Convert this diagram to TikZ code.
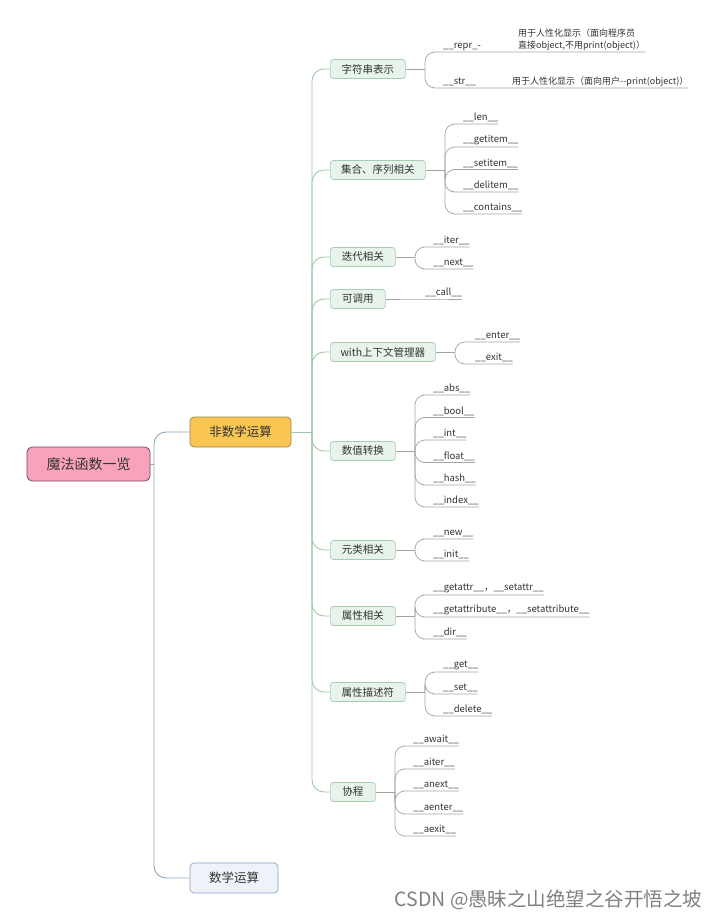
\documentclass[tikz,border=0pt]{standalone}
\usepackage{fontspec}
\setmainfont{Noto Sans CJK SC}
\definecolor{rootfill}{HTML}{F8A3BC}
\definecolor{rootdraw}{HTML}{7E4A5C}
\definecolor{nmfill}{HTML}{F9C652}
\definecolor{nmdraw}{HTML}{9A8446}
\definecolor{mfill}{HTML}{EEF3FA}
\definecolor{mdraw}{HTML}{8FA2B6}
\definecolor{gfill}{HTML}{E7F3EB}
\definecolor{gdraw}{HTML}{A6CDB2}
\definecolor{gline}{HTML}{9DC8A9}
\definecolor{bline}{HTML}{8EA7BA}
\definecolor{lline}{HTML}{A3A3A3}
\definecolor{txt}{HTML}{333333}
\begin{document}
\begin{tikzpicture}[x=1pt,y=-1pt,
  rootbox/.style={draw=rootdraw,fill=rootfill,rounded corners=5pt,line width=0.8pt,
    minimum width=123pt,minimum height=34pt,inner sep=0pt,text=txt,font=\fontsize{14}{16}\selectfont},
  nmbox/.style={draw=nmdraw,fill=nmfill,rounded corners=4pt,line width=0.7pt,
    minimum width=101pt,minimum height=30pt,inner sep=0pt,text=txt,font=\fontsize{12.5}{14}\selectfont},
  mbox/.style={draw=mdraw,fill=mfill,rounded corners=4pt,line width=0.7pt,
    minimum width=88pt,minimum height=30pt,inner sep=0pt,text=txt,font=\fontsize{12.5}{14}\selectfont},
  gbox/.style={draw=gdraw,fill=gfill,rounded corners=3pt,line width=0.7pt,
    minimum height=19pt,inner sep=0pt,anchor=west,text=txt,font=\fontsize{10.5}{12}\selectfont},
  leaf/.style={anchor=south west,inner xsep=0pt,inner ysep=1.5pt,text=txt,font=\fontsize{9.5}{11}\selectfont},
  desc/.style={anchor=south west,inner xsep=0pt,inner ysep=1.5pt,text=txt,font=\fontsize{9}{12}\selectfont,align=left},
  trunk/.style={draw=gline,line width=0.9pt,rounded corners=12pt},
  btrunk/.style={draw=bline,line width=0.9pt,rounded corners=12pt},
  leafline/.style={draw=lline,line width=0.7pt,rounded corners=10pt}
]
\useasboundingbox (0,0) rectangle (720,920);

% main nodes
\node[rootbox] (root) at (88.5,464) {魔法函数一览};
\node[nmbox] (nm) at (240.5,432) {非数学运算};
\node[mbox] (m) at (234,878) {数学运算};
\coordinate (rj) at (154,464);
\draw[btrunk] (root.east) -- (rj);
\draw[btrunk] (rj) |- (nm.west);
\draw[btrunk] (rj) |- (m.west);

% level 2
\node[gbox,minimum width=75pt] (s1) at (330,69) {字符串表示};
\node[gbox,minimum width=95pt] (s2) at (330,170) {集合、序列相关};
\node[gbox,minimum width=65pt] (s3) at (330,257) {迭代相关};
\node[gbox,minimum width=55pt] (s4) at (330,299) {可调用};
\node[gbox,minimum width=105pt] (s5) at (330,352) {with上下文管理器};
\node[gbox,minimum width=65pt] (s6) at (330,451) {数值转换};
\node[gbox,minimum width=65pt] (s7) at (330,550) {元类相关};
\node[gbox,minimum width=65pt] (s8) at (330,616) {属性相关};
\node[gbox,minimum width=75pt] (s9) at (330,692) {属性描述符};
\node[gbox,minimum width=45pt] (s10) at (330,792) {协程};
\coordinate (tj) at (312,432);
\draw[trunk] (nm.east) -- (tj);
\foreach \s in {s1,s2,s3,s4,s5,s6,s7,s8,s9,s10}
  \draw[trunk] (tj) |- (\s.west);

% 字符串表示
\node[leaf] (repr) at (443,52) {\_\_repr\_-};
\node[desc] (reprd) at (518,52) {用于人性化显示（面向程序员\\直接object,不用print(object)）};
\node[leaf] (str) at (443,88) {\_\_str\_\_};
\node[desc] (strd) at (512,88) {用于人性化显示（面向用户-{}-print(object)）};
\coordinate (b1) at (425,69);
\draw[leafline] (s1.east) -- (b1);
\draw[leafline] (b1) |- (repr.south west) -- (reprd.south east);
\draw[leafline] (b1) |- (str.south west) -- (strd.south east);

% 集合、序列相关
\coordinate (b2) at (445,170);
\draw[leafline] (s2.east) -- (b2);
\foreach \n/\t/\y in {l1/\_\_len\_\_/124, l2/\_\_getitem\_\_/147, l3/\_\_setitem\_\_/169.5, l4/\_\_delitem\_\_/192, l5/\_\_contains\_\_/214}{
  \node[leaf] (\n) at (463,\y) {\t};
  \draw[leafline] (b2) |- (\n.south west) -- (\n.south east);
}

% 迭代相关
\coordinate (b3) at (415,257);
\draw[leafline] (s3.east) -- (b3);
\foreach \n/\t/\y in {i1/\_\_iter\_\_/247, i2/\_\_next\_\_/269}{
  \node[leaf] (\n) at (433,\y) {\t};
  \draw[leafline] (b3) |- (\n.south west) -- (\n.south east);
}

% 可调用
\node[leaf] (call) at (425,299) {\_\_call\_\_};
\draw[leafline] (s4.east) -- (call.south west) -- (call.south east);

% with
\coordinate (b5) at (455,352);
\draw[leafline] (s5.east) -- (b5);
\foreach \n/\t/\y in {w1/\_\_enter\_\_/342, w2/\_\_exit\_\_/364}{
  \node[leaf] (\n) at (475,\y) {\t};
  \draw[leafline] (b5) |- (\n.south west) -- (\n.south east);
}

% 数值转换
\coordinate (b6) at (415,451);
\draw[leafline] (s6.east) -- (b6);
\foreach \n/\t/\y in {v1/\_\_abs\_\_/395, v2/\_\_bool\_\_/417.5, v3/\_\_int\_\_/440, v4/\_\_float\_\_/462.5, v5/\_\_hash\_\_/485, v6/\_\_index\_\_/507}{
  \node[leaf] (\n) at (433,\y) {\t};
  \draw[leafline] (b6) |- (\n.south west) -- (\n.south east);
}

% 元类相关
\coordinate (b7) at (415,550);
\draw[leafline] (s7.east) -- (b7);
\foreach \n/\t/\y in {c1/\_\_new\_\_/539, c2/\_\_init\_\_/561}{
  \node[leaf] (\n) at (433,\y) {\t};
  \draw[leafline] (b7) |- (\n.south west) -- (\n.south east);
}

% 属性相关
\coordinate (b8) at (415,616);
\draw[leafline] (s8.east) -- (b8);
\foreach \n/\t/\y in {a1/{\_\_getattr\_\_，\_\_setattr\_\_}/595, a2/{\_\_getattribute\_\_，\_\_setattribute\_\_}/617, a3/\_\_dir\_\_/639}{
  \node[leaf] (\n) at (433,\y) {\t};
  \draw[leafline] (b8) |- (\n.south west) -- (\n.south east);
}

% 属性描述符
\coordinate (b9) at (425,692);
\draw[leafline] (s9.east) -- (b9);
\foreach \n/\t/\y in {d1/\_\_get\_\_/672, d2/\_\_set\_\_/694, d3/\_\_delete\_\_/716}{
  \node[leaf] (\n) at (443,\y) {\t};
  \draw[leafline] (b9) |- (\n.south west) -- (\n.south east);
}

% 协程
\coordinate (b10) at (395,792);
\draw[leafline] (s10.east) -- (b10);
\foreach \n/\t/\y in {k1/\_\_await\_\_/746, k2/\_\_aiter\_\_/769, k3/\_\_anext\_\_/791, k4/\_\_aenter\_\_/814, k5/\_\_aexit\_\_/836}{
  \node[leaf] (\n) at (413,\y) {\t};
  \draw[leafline] (b10) |- (\n.south west) -- (\n.south east);
}

% watermark
\node[text=black!50,font=\fontsize{19.5}{21}\selectfont,anchor=east] (wm) at (706,900) {CSDN @愚昧之山绝望之谷开悟之坡};
\end{tikzpicture}
\end{document}
